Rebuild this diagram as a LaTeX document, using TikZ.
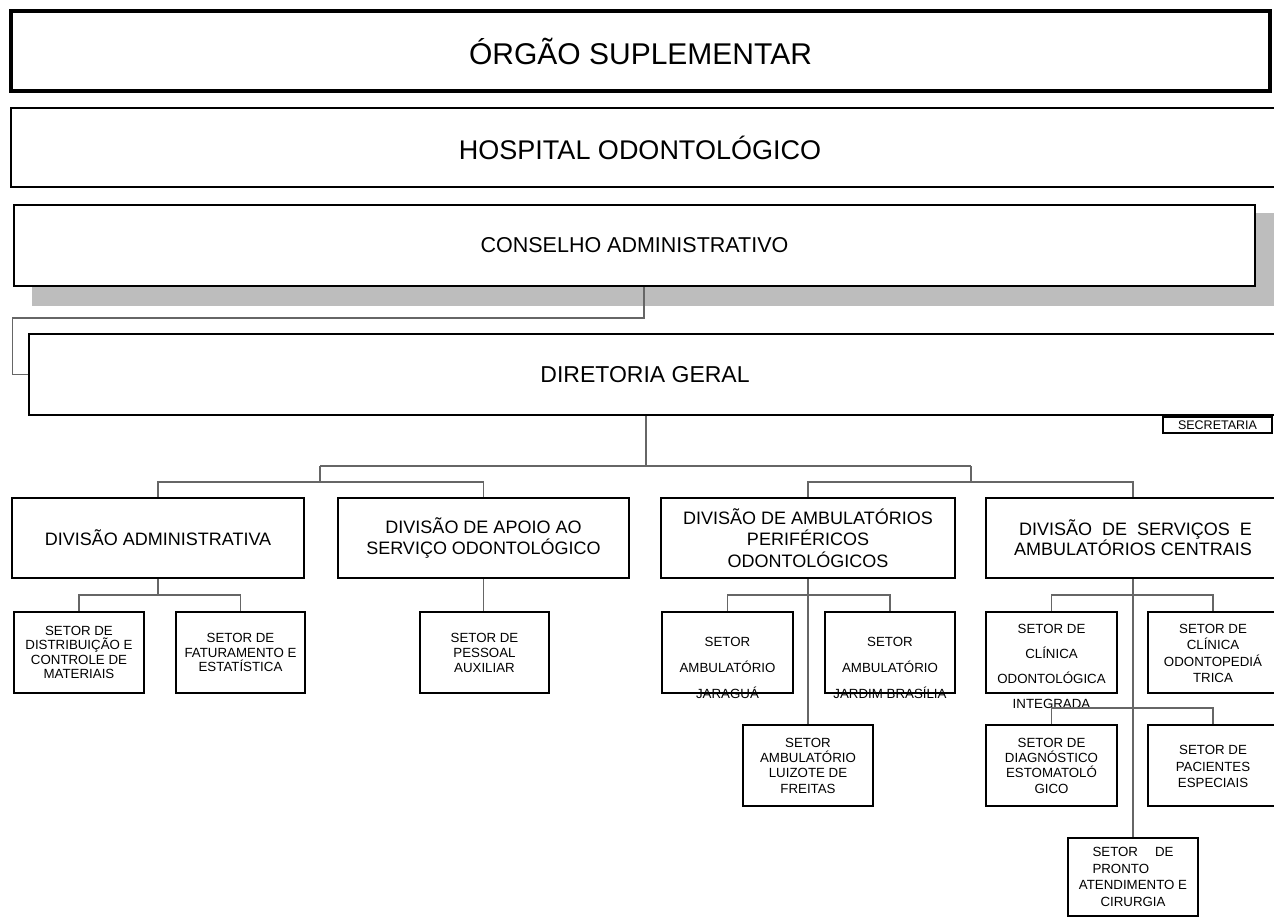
\documentclass[tikz,border=0pt]{standalone}
\usepackage{fontspec}
\setmainfont{Liberation Sans}
\usetikzlibrary{calc}
\newcommand\myfs[2]{\fontsize{#1pt}{#2pt}\selectfont}
\begin{document}
\begin{tikzpicture}[x=1pt,y=-1pt,
  bx/.style={draw=black,line width=2pt,inner sep=0pt,fill=white,align=center},
  sb/.style={bx,minimum width=130pt,minimum height=81pt,font=\myfs{13.3}{14.5}},
  conn/.style={draw=black!60,line width=1.1pt},
  txt/.style={inner sep=0pt,align=center}]
\useasboundingbox (0,0) rectangle (1274,919);
\clip (0,0) rectangle (1274,919);

% top levels
\node[bx,line width=4.5pt,minimum width=1259pt,minimum height=80pt,font=\myfs{30}{36}] (org) at (640.5,51) {ÓRGÃO SUPLEMENTAR};
\node[bx,line width=1.8pt,minimum width=1300pt,minimum height=79pt] (hosp) at (661,147.5) {};
\node[txt,font=\myfs{27}{32}] (hosptxt) at (640,147.5) {HOSPITAL ODONTOLÓGICO};

\fill[black!26] (32,213) rectangle (1290,306);
\node[bx,line width=2.5pt,minimum width=1241pt,minimum height=81pt,font=\myfs{21.5}{26}] (cons) at (634.5,245.5) {CONSELHO ADMINISTRATIVO};

\node[bx,minimum width=1280pt,minimum height=81pt] (dir) at (669,374.5) {};
\node[txt,font=\myfs{23}{28}] (dirtxt) at (645,375) {DIRETORIA GERAL};
\node[bx,line width=1.5pt,minimum width=109pt,minimum height=16pt,font=\myfs{12.5}{14}] (sec) at (1217.5,425) {SECRETARIA};

\coordinate (k1) at (644,318);
\coordinate (k2) at (12.7,318);
\draw[conn] (cons.south -| k1) -- (k1) -- (k2) |- (dir.west);

% divisions
\node[bx,minimum width=292pt,minimum height=80pt,font=\myfs{18}{20}] (dadm) at (158,538) {DIVISÃO ADMINISTRATIVA};
\node[bx,minimum width=291pt,minimum height=80pt,font=\myfs{18}{20.5}] (dapo) at (483.5,538) {DIVISÃO DE APOIO AO\\SERVIÇO ODONTOLÓGICO};
\node[bx,minimum width=294pt,minimum height=80pt,font=\myfs{18}{21.5}] (damb) at (808,538) {DIVISÃO DE AMBULATÓRIOS\\PERIFÉRICOS\\ODONTOLÓGICOS};
\node[bx,minimum width=320pt,minimum height=80pt] (dser) at (1146,538) {};
\node[txt,align=right,font=\myfs{18}{20}] (dsertxt) at (1133,538) {DIVISÃO\ \ DE\ \ SERVIÇOS\ \ E\\AMBULATÓRIOS CENTRAIS};

\coordinate (k3) at (646,466);
\coordinate (kL) at (320,466);
\coordinate (kR) at (971,466);
\coordinate (kL2) at (320,482);
\coordinate (kR2) at (971,482);
\draw[conn] (dir.south -| k3) -- (k3);
\draw[conn] (kL) -- (kR);
\draw[conn] (kL) -- (kL2);
\draw[conn] (kR) -- (kR2);
\draw[conn] (dadm.north) |- (kL2) -| (dapo.north);
\draw[conn] (damb.north) |- (kR2) -| (dser.north -| dsertxt);

% sectors under Divisao Administrativa
\node[sb] (sdist) at (79,652.5) {SETOR DE\\DISTRIBUIÇÃO E\\CONTROLE DE\\MATERIAIS};
\node[sb,minimum width=129pt] (sfat) at (240.5,652.5) {SETOR DE\\FATURAMENTO E\\ESTATÍSTICA};
\coordinate (a1) at (160,595);
\draw[conn] (dadm.south) -- (dadm.south |- a1);
\draw[conn] (sdist.north) |- (a1) -| (sfat.north);

% apoio
\node[sb,minimum width=129pt,font=\myfs{13.3}{15}] (spes) at (484.5,652.5) {SETOR DE\\PESSOAL\\AUXILIAR};
\draw[conn] (dapo.south) -- (dapo.south |- spes.north);

% ambulatorios perifericos
\node[sb,minimum width=131pt] (sjar) at (727.5,652.5) {};
\node[txt,font=\myfs{13.3}{26}] (sjart) at (727.5,668) {SETOR\\AMBULATÓRIO\\JARAGUÁ};
\node[sb] (sjard) at (890,652.5) {};
\node[txt,font=\myfs{13.3}{26}] (sjardt) at (890,668) {SETOR\\AMBULATÓRIO\\JARDIM BRASÍLIA};
\node[sb,font=\myfs{13.3}{15.3}] (sluiz) at (808,765.5) {SETOR\\AMBULATÓRIO\\LUIZOTE DE\\FREITAS};
\coordinate (b1) at (808,595);
\draw[conn] (damb.south) -- (sluiz.north);
\draw[conn] (sjar.north) |- (b1) -| (sjard.north);

% servicos e ambulatorios centrais
\node[sb,minimum width=131pt] (sclin) at (1051.5,652.5) {};
\node[txt,font=\myfs{13.3}{25}] (sclint) at (1051.5,666.5) {SETOR DE\\CLÍNICA\\ODONTOLÓGICA\\INTEGRADA};
\node[sb,minimum width=162pt] (sped) at (1229,652.5) {};
\node[txt,font=\myfs{13.3}{16.3}] (spedt) at (1213,653.5) {SETOR DE\\CLÍNICA\\ODONTOPEDIÁ\\TRICA};
\node[sb,minimum width=131pt,font=\myfs{13.3}{15.3}] (sdiag) at (1051.5,765.5) {SETOR DE\\DIAGNÓSTICO\\ESTOMATOLÓ\\GICO};
\node[sb,minimum width=162pt] (spac) at (1229,765.5) {};
\node[txt,font=\myfs{13.3}{16.5}] (spact) at (1213,766.5) {SETOR DE\\PACIENTES\\ESPECIAIS};
\node[sb,minimum height=78pt,font=\myfs{13.3}{16.7}] (spro) at (1133,877) {\makebox[81pt][s]{SETOR DE}\\\makebox[81pt][l]{PRONTO}\\ATENDIMENTO E\\CIRURGIA};

\coordinate (c1) at (1133,595);
\coordinate (c2) at (1133,708);
\draw[conn] (dser.south -| dsertxt) -- (spro.north);
\draw[conn] (sclin.north) |- (c1) -| (spedt |- sped.north);
\draw[conn] (sdiag.north) |- (c2) -| (spact |- spac.north);
\end{tikzpicture}
\end{document}
